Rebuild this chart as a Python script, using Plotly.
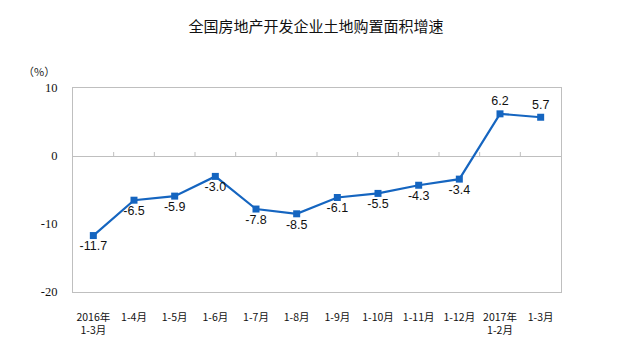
import plotly.graph_objects as go

categories = ["2016年<br>1-3月", "1-4月", "1-5月", "1-6月", "1-7月", "1-8月", "1-9月",
              "1-10月", "1-11月", "1-12月", "2017年<br>1-2月", "1-3月"]
values = [-11.7, -6.5, -5.9, -3.0, -7.8, -8.5, -6.1, -5.5, -4.3, -3.4, 6.2, 5.7]
label_pos = ["bottom center"] * 10 + ["top center"] * 2
y_ticks = [-20, -10, 0, 10]

blue = "#1565c0"
grey = "#bfbfbf"

fig = go.Figure()
fig.add_trace(go.Scatter(
    x=list(range(len(categories))), y=values,
    mode="lines+markers+text",
    line=dict(color=blue, width=2.2),
    marker=dict(symbol="square", size=7, color=blue),
    text=[f"{v:.1f}" for v in values],
    textposition=label_pos,
    textfont=dict(family="Liberation Sans, Arial", size=12.5, color="#111"),
    cliponaxis=False,
    hoverinfo="skip",
))

# small tick marks on the zero line at category boundaries
shapes = []
for i in range(1, len(categories)):
    shapes.append(dict(type="line", xref="x", yref="y", x0=i - 0.5, x1=i - 0.5,
                       ysizemode="pixel", yanchor=0, y0=0, y1=4,
                       line=dict(color=grey, width=1)))

fig.update_layout(
    width=632, height=354,
    margin=dict(l=73, r=71, t=88, b=62),
    paper_bgcolor="white", plot_bgcolor="white",
    showlegend=False,
    shapes=shapes,
    title=dict(text="全国房地产开发企业土地购置面积增速", x=0.5, xanchor="center",
               y=0.925, yanchor="middle",
               font=dict(family="Noto Sans CJK SC", size=15, color="#111")),
    annotations=[dict(text="（%）", xref="paper", yref="paper", x=-0.07, y=1.085,
                      xanchor="center", yanchor="middle", showarrow=False,
                      font=dict(family="Noto Sans CJK SC", size=11, color="#222"))],
    xaxis=dict(
        tickmode="array", tickvals=list(range(len(categories))), ticktext=categories,
        range=[-0.5, len(categories) - 0.5],
        showgrid=False, zeroline=False, showline=True, mirror=True,
        linecolor=grey, linewidth=1, ticks="",
        tickfont=dict(family="Noto Sans CJK SC", size=10.5, color="#111"),
        ticklabelstandoff=15,
    ),
    yaxis=dict(
        range=[-20, 10], tickmode="array", tickvals=y_ticks,
        ticktext=[str(v) for v in y_ticks], showgrid=False,
        zeroline=True, zerolinecolor=grey, zerolinewidth=1,
        showline=True, mirror=True, linecolor=grey, linewidth=1, ticks="",
        tickfont=dict(family="Liberation Serif", size=12.5, color="#111"),
        ticklabelstandoff=12,
    ),
)

fig.write_html("out.html")
